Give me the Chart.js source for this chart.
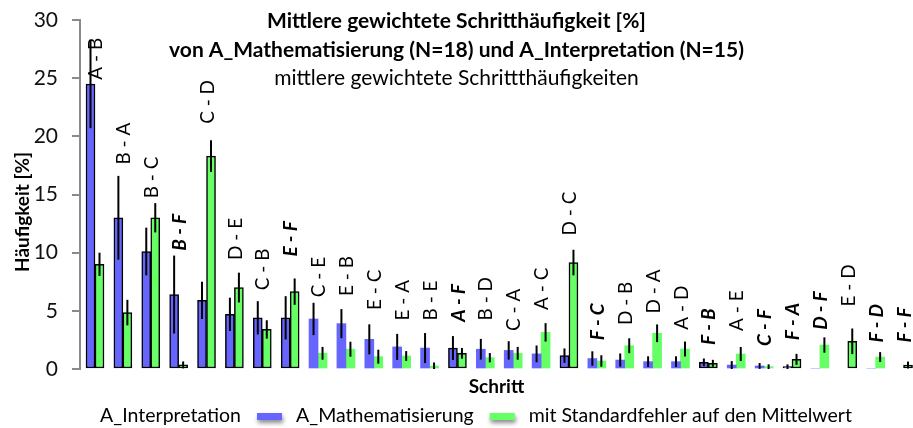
<!DOCTYPE html>
<html>
<head>
<meta charset="utf-8">
<script src="https://cdn.jsdelivr.net/npm/chart.js@4.4.0/dist/chart.umd.min.js"></script>
<style>
html,body{margin:0;padding:0;background:#fff;overflow:hidden;}
canvas{display:block;}
</style>
</head>
<body>
<canvas id="c" width="913" height="428"></canvas>
<script>
// ---- data ----
const categories = ["A - B","B - A","B - C","B - F","C - D","D - E","C - B","E - F","C - E","E - B",
  "E - C","E - A","B - E","A - F","B - D","C - A","A - C","D - C","F - C","D - B",
  "D - A","A - D","F - B","A - E","C - F","F - A","D - F","E - D","F - D","F - F"];
const blueValues  = [24.5,13.0,10.1,6.4,5.9,4.7,4.4,4.4,4.3,3.9,2.55,1.9,1.8,1.8,1.7,1.6,1.3,1.15,0.9,0.77,0.63,0.63,0.57,0.34,0.26,0.2,0,0,0,0];
const blueErrors  = [3.8,3.6,2.05,3.35,1.6,1.43,1.43,1.86,1.39,1.25,1.29,1.12,1.29,1.03,0.89,0.79,0.72,0.62,0.62,0.57,0.46,0.46,0.33,0.34,0.25,0.2,0,0,0,0];
const greenValues = [9.0,4.85,13.0,0.35,18.3,7.0,3.4,6.65,1.35,1.7,1.06,1.12,0.26,1.35,0.97,1.35,3.15,9.15,0.69,2.0,3.07,1.72,0.49,1.29,0.2,0.83,2.06,2.38,1.03,0.34];
const greenErrors = [1.0,1.1,1.26,0.3,1.36,1.28,0.79,1.13,0.55,0.64,0.6,0.42,0.3,0.46,0.4,0.55,0.79,1.1,0.49,0.64,0.76,0.64,0.3,0.6,0.2,0.47,0.66,1.1,0.42,0.3];
// hidden series "A_Interpretation" that carries the step names as labels
const labelHeights = [24.7,17.4,14.5,10.0,20.9,9.2,6.6,9.5,6.0,6.1,4.9,4.0,4.0,3.9,4.0,3.1,4.9,11.3,2.3,3.6,4.6,3.2,1.9,3.1,1.8,2.3,3.2,5.2,2.1,2.1];
const yTicks = [0,5,10,15,20,25,30];
const titleLines = ["Mittlere gewichtete Schritthäufigkeit [%]",
  "von A_Mathematisierung (N=18) und A_Interpretation (N=15)"];
const subtitle = "mittlere gewichtete Schrittthäufigkeiten";
const xTitle = "Schritt";
const yTitle = "Häufigkeit [%]";
const seriesNames = ["A_Mathematisierung","mit Standardfehler auf den Mittelwert","A_Interpretation"];

// ---- styles ----
const FONT = "Lato";
const BLUE = "#6666ff", GREEN = "#66ff66";
const AXIS = "#8a8a8a";
const outlined = [1,1,1,1,1,1,1,1,0,0,0,0,0,1,0,0,0,1,0,0,0,0,1,0,0,1,0,1,0,1];

const pts = arr => arr.map((v,i)=>({x:i+1, y:v}));

const errorBars = {
  id:'errorBars',
  afterDatasetsDraw(chart){
    const ctx = chart.ctx, ys = chart.scales.y;
    ctx.save();
    ctx.strokeStyle = '#000'; ctx.lineWidth = 2;
    [[0,blueValues,blueErrors],[1,greenValues,greenErrors]].forEach(([di,vals,errs])=>{
      chart.getDatasetMeta(di).data.forEach((bar,i)=>{
        if(!errs[i]) return;
        ctx.beginPath();
        ctx.moveTo(bar.x, ys.getPixelForValue(vals[i]+errs[i]));
        ctx.lineTo(bar.x, ys.getPixelForValue(Math.max(0, vals[i]-errs[i])));
        ctx.stroke();
      });
    });
    ctx.restore();
  }
};

const stepLabels = {
  id:'stepLabels',
  afterDatasetsDraw(chart){
    const ctx = chart.ctx;
    ctx.save();
    ctx.fillStyle = '#000'; ctx.textAlign = 'left'; ctx.textBaseline = 'middle';
    chart.getDatasetMeta(2).data.forEach((pt,i)=>{
      const txt = categories[i];
      ctx.font = (txt.indexOf('F')>=0 ? 'italic bold ' : '') + '19px ' + FONT;
      ctx.save();
      ctx.translate(pt.x + 1, pt.y - 2);
      ctx.rotate(-Math.PI/2);
      ctx.fillText(txt, 0, 0);
      ctx.restore();
    });
    ctx.restore();
  }
};

const decorations = {
  id:'decorations',
  afterDraw(chart){
    const ctx = chart.ctx, W = chart.width, ca = chart.chartArea;
    ctx.save();
    ctx.fillStyle = '#000';
    ctx.textAlign = 'center'; ctx.textBaseline = 'alphabetic';
    ctx.font = 'bold 21px ' + FONT;
    ctx.fillText(titleLines[0], W/2, 28);
    ctx.fillText(titleLines[1], W/2, 57);
    ctx.font = '21px ' + FONT;
    ctx.fillText(subtitle, W/2, 85);
    ctx.font = 'bold 19px ' + FONT;
    ctx.fillText(xTitle, (ca.left+ca.right)/2, 393);
    ctx.save();
    ctx.translate(29, 212);
    ctx.rotate(-Math.PI/2);
    ctx.fillText(yTitle, 0, 0);
    ctx.restore();
    // legend
    ctx.font = '19.5px ' + FONT;
    const ds = chart.data.datasets;
    const items = [2,0,1].map(k=>({text: ds[k].label, color: ds[k].type==='line' ? null : ds[k].backgroundColor}));
    const sw = 25, sh = 7, gapT = 14, gapI = 16;
    let total = 0;
    items.forEach((it,k)=>{ it.w = ctx.measureText(it.text).width; total += sw + gapT + it.w + (k ? gapI : 0); });
    let x = W/2 - total/2;
    const base = 422;
    ctx.textAlign = 'left';
    items.forEach(it=>{
      if(it.color){
        ctx.save();
        ctx.shadowColor = 'rgba(0,0,0,0.45)'; ctx.shadowBlur = 4; ctx.shadowOffsetX = 1; ctx.shadowOffsetY = 3;
        ctx.fillStyle = it.color;
        ctx.fillRect(x, base - 9, sw, sh);
        ctx.restore();
      }
      ctx.fillStyle = '#000';
      ctx.fillText(it.text, x + sw + gapT, base);
      x += sw + gapT + it.w + gapI;
    });
    ctx.restore();
  }
};

function draw(){
  new Chart(document.getElementById('c'), {
    type:'bar',
    data:{
      datasets:[
        {type:'bar', label:seriesNames[0], data:pts(blueValues), backgroundColor:BLUE,
         borderColor:'#000', borderWidth:outlined.map(o=>o?1.5:0), borderSkipped:false, barThickness:9},
        {type:'bar', label:seriesNames[1], data:pts(greenValues), backgroundColor:GREEN,
         borderColor:'#000', borderWidth:outlined.map(o=>o?1.5:0), borderSkipped:false, barThickness:9},
        {type:'line', label:seriesNames[2], data:pts(labelHeights), showLine:false, pointRadius:0,
         borderColor:'rgba(0,0,0,0)', backgroundColor:'rgba(0,0,0,0)'}
      ]
    },
    options:{
      responsive:false, animation:false, devicePixelRatio:1,
      layout:{autoPadding:false, padding:{left:0, top:20, right:0, bottom:59}},
      plugins:{legend:{display:false}, title:{display:false}, tooltip:{enabled:false}},
      scales:{
        x:{type:'linear', display:false, offset:false, min:0.462, max:30.34, grid:{display:false, offset:false}},
        y:{min:yTicks[0], max:yTicks[yTicks.length-1],
           ticks:{stepSize:yTicks[1]-yTicks[0], padding:14, color:'#111', font:{family:FONT, size:21}},
           grid:{display:true, drawOnChartArea:false, drawTicks:true, tickLength:8, color:AXIS, lineWidth:2},
           border:{display:true, color:AXIS, width:2},
           afterFit(s){ s.width = 80; s.paddingTop = 0; s.paddingBottom = 0; }}
      }
    },
    plugins:[errorBars, stepLabels, decorations]
  });
}
if (document.fonts && document.fonts.load) {
  Promise.all([document.fonts.load('18px Lato'), document.fonts.load('bold 18px Lato'), document.fonts.load('italic bold 19px Lato')])
    .then(draw, draw);
} else { draw(); }
</script>
</body>
</html>
